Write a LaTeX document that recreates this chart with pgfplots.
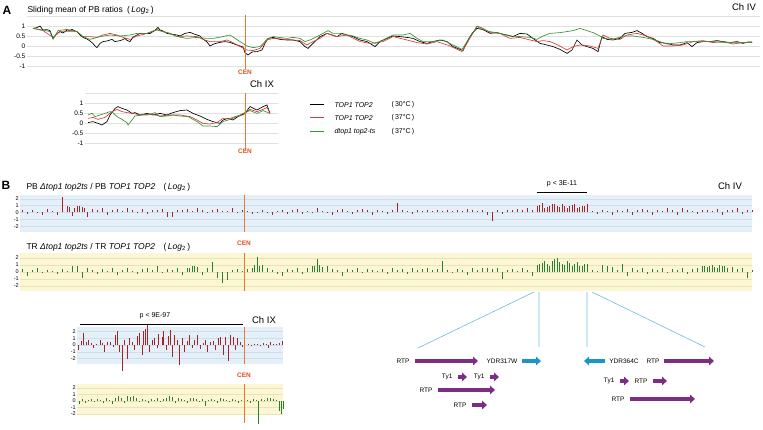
\documentclass[border=0pt]{standalone}
\usepackage{pgfplots}
\pgfplotsset{compat=1.18}
\usepackage{fontspec}
\setmainfont{Liberation Sans}
\usetikzlibrary{arrows.meta}

\definecolor{cenorange}{RGB}{232,120,50}
\definecolor{centext}{RGB}{220,80,30}
\definecolor{lred}{RGB}{215,60,50}
\definecolor{lgreen}{RGB}{50,150,50}
\definecolor{barred}{RGB}{165,35,35}
\definecolor{bargreen}{RGB}{40,130,45}
\definecolor{bandblue}{RGB}{228,239,248}
\definecolor{gridblue}{RGB}{205,222,238}
\definecolor{bandyellow}{RGB}{251,246,212}
\definecolor{gridyellow}{RGB}{236,226,180}
\definecolor{gene}{RGB}{125,45,130}
\definecolor{ydr}{RGB}{25,150,200}
\definecolor{zoomline}{RGB}{110,185,220}

\pgfplotsset{
  lineaxis/.style={scale only axis, clip=false, anchor=south west,
    axis line style={draw=none}, tick style={draw=none}, xtick=\empty,
    ymin=-1, ymax=1.5, ytick={-1,-0.5,0,0.5,1,1.5},
    yticklabels={-1,-0.5,0,0.5,1,{}}, ymajorgrids,
    grid style={black!12, line width=0.7pt},
    yticklabel style={font=\fontsize{6.5}{7}\selectfont, inner sep=1.5pt}},
  bandaxis/.style={scale only axis, clip=false, anchor=south west,
    axis line style={draw=none}, tick style={draw=none}, xtick=\empty,
    ytick={-2,-1,0,1,2}, yticklabels={-2,-1,0,1,2}, ymajorgrids,
    yticklabel style={font=\fontsize{5.5}{6}\selectfont, inner sep=1pt}},
  blueband/.style={axis background/.style={fill=bandblue}, grid style={gridblue, line width=0.5pt}},
  yellowband/.style={axis background/.style={fill=bandyellow}, grid style={gridyellow, line width=0.5pt}},
}
\newcommand\cen[1]{\node[text=centext, font=\fontsize{6.5}{7}\selectfont\bfseries] at #1 {CEN};}

\begin{document}
\begin{tikzpicture}
\path[use as bounding box] (0pt,0pt) rectangle (763pt,-430pt);

% ---------- A: Ch IV sliding mean
\begin{axis}[lineaxis, at={(27pt,-66pt)}, width=733pt, height=50pt, xmin=27, xmax=760]
\addplot[black, line width=0.65pt] coordinates {
(33,0.88)(37,0.92)(40,1.0)(43,0.8)(47,0.82)(50,0.77)(53,0.38)(55,0.5)(57,0.63)(60,0.72)
(63,0.65)(67,0.8)(70,0.78)(72,0.83)(75,0.75)(77,0.72)(80,0.55)(83,0.43)(87,0.35)(90,0.25)
(93,0.13)(95,0.0)(97,-0.08)(100,0.13)(103,0.22)(107,0.25)(110,0.3)(112,0.33)(115,0.22)(118,0.25)
(120,0.27)(123,0.32)(125,0.38)(127,0.28)(130,0.22)(133,0.45)(137,0.55)(140,0.63)(143,0.6)(147,0.63)
(150,0.62)(153,0.72)(155,0.78)(158,0.93)(160,0.8)(163,0.75)(167,0.63)(170,0.6)(173,0.58)(177,0.55)
(180,0.5)(185,0.63)(190,0.68)(193,0.62)(197,0.55)(200,0.5)(203,0.35)(207,0.2)(210,0.0)(213,0.08)
(215,0.12)(220,0.18)(225,0.22)(230,0.18)(233,0.12)(240,0.0)(243,-0.05)(245,-0.33)(248,-0.45)(252,-0.3)
(257,-0.28)(262,-0.2)(265,0.13)(268,0.38)(273,0.43)(280,0.33)(287,0.3)(293,0.3)(300,0.22)(305,-0.03)
(308,-0.12)(313,0.13)(320,0.47)(327,0.63)(332,0.55)(337,0.47)(342,0.63)(347,0.55)(353,0.47)(360,0.3)
(367,0.22)(375,-0.03)(380,0.22)(387,0.38)(393,0.5)(400,0.47)(407,0.43)(413,0.38)(420,0.22)(427,0.13)
(433,0.22)(440,0.3)(447,0.22)(453,-0.03)(460,-0.17)(463,-0.23)(468,0.3)(472,0.63)(477,0.88)(482,0.83)
(485,0.77)(490,0.63)(497,0.67)(502,0.6)(507,0.55)(513,0.47)(520,0.63)(527,0.6)(533,0.38)(540,0.13)
(547,0.05)(553,-0.03)(560,-0.17)(567,-0.37)(572,-0.2)(577,0.3)(582,0.05)(587,-0.03)(593,-0.12)(598,-0.28)
(602,0.47)(607,0.33)(613,0.3)(620,0.38)(625,0.63)(632,0.68)(637,0.77)(642,0.63)(647,0.47)(653,0.38)
(660,0.17)(667,0.13)(673,0.05)(680,0.05)(687,0.17)(692,-0.03)(697,0.17)(703,0.22)(710,0.22)(717,0.27)
(723,0.22)(730,0.17)(737,0.22)(743,0.13)(748,0.2)(752,0.2)};
\addplot[lred, line width=0.65pt] coordinates {
(33,0.88)(43,0.77)(53,0.43)(60,0.72)(70,0.72)(77,0.72)(83,0.47)(90,0.47)(97,0.43)(103,0.55)
(110,0.63)(117,0.55)(123,0.43)(130,0.33)(137,0.5)(147,0.63)(157,0.8)(163,0.72)(170,0.63)(177,0.47)
(187,0.5)(197,0.47)(203,0.33)(210,0.22)(220,0.22)(227,0.3)(233,0.17)(240,-0.03)(247,-0.2)(253,-0.23)
(260,-0.12)(267,0.3)(273,0.38)(287,0.33)(300,0.27)(307,0.05)(313,0.22)(320,0.38)(327,0.63)(337,0.47)
(347,0.55)(360,0.22)(370,0.13)(377,0.17)(383,0.22)(393,0.47)(407,0.3)(417,0.17)(427,0.1)(437,0.22)
(450,0.0)(462,-0.28)(468,0.22)(477,1.0)(483,0.88)(490,0.67)(500,0.63)(510,0.38)(520,0.43)(530,0.3)
(537,0.22)(543,0.27)(550,0.22)(558,0.05)(567,-0.2)(573,-0.03)(580,0.05)(590,0.0)(598,-0.12)(603,0.55)
(610,0.38)(620,0.33)(627,0.55)(637,0.63)(647,0.5)(657,0.22)(663,0.0)(673,0.0)(683,0.05)(693,0.22)
(703,0.27)(713,0.17)(723,0.22)(733,0.1)(743,0.17)(752,0.17)};
\addplot[lgreen, line width=0.65pt] coordinates {
(33,0.88)(43,0.8)(50,0.72)(53,0.33)(58,0.77)(67,0.83)(77,0.72)(83,0.47)(90,0.33)(100,0.47)
(110,0.55)(120,0.5)(130,0.55)(137,0.63)(147,0.63)(157,0.83)(163,0.72)(170,0.63)(177,0.47)(187,0.38)
(197,0.43)(207,0.38)(213,0.38)(223,0.47)(230,0.55)(240,0.22)(247,0.0)(253,-0.08)(260,-0.03)(267,0.33)
(273,0.47)(287,0.38)(293,0.43)(300,0.38)(305,0.22)(310,0.3)(317,0.47)(323,0.63)(328,0.77)(333,0.63)
(340,0.63)(347,0.55)(353,0.5)(360,0.38)(367,0.3)(375,0.13)(383,0.3)(393,0.55)(403,0.55)(410,0.63)
(417,0.38)(423,0.22)(433,0.22)(443,0.3)(453,0.05)(462,-0.17)(468,0.3)(477,0.97)(483,0.83)(490,0.72)
(500,0.63)(510,0.5)(520,0.47)(530,0.43)(537,0.33)(543,0.5)(550,0.63)(560,0.67)(567,0.72)(573,0.77)
(580,0.88)(587,0.77)(593,0.67)(600,0.5)(603,0.38)(613,0.33)(623,0.5)(633,0.5)(643,0.43)(653,0.33)
(660,0.22)(667,0.1)(680,0.17)(687,0.22)(693,0.22)(703,0.22)(713,0.22)(723,0.18)(733,0.17)(743,0.17)
(752,0.17)};
\draw[cenorange, line width=1pt] (axis cs:245,1.55) -- (axis cs:245,-1.15);
\end{axis}

% ---------- A: Ch IX sliding mean
\begin{axis}[lineaxis, at={(85pt,-143pt)}, width=193pt, height=50pt, xmin=85, xmax=278]
\addplot[black, line width=0.65pt] coordinates {
(88,0.02)(93,0.07)(98,-0.02)(102,-0.1)(107,0.07)(110,0.4)(115,0.73)(118,0.82)(122,0.73)(127,0.65)
(132,0.48)(135,0.52)(140,0.4)(147,0.48)(153,0.4)(160,0.48)(167,0.4)(173,0.52)(180,0.62)(187,0.65)
(193,0.48)(200,0.35)(207,0.18)(213,0.07)(220,-0.02)(223,0.15)(228,0.23)(233,0.15)(238,0.32)(245,0.48)
(250,0.82)(257,0.65)(263,0.82)(267,0.9)(270,0.48)};
\addplot[lred, line width=0.65pt] coordinates {
(88,0.23)(93,0.28)(98,0.18)(105,0.28)(112,0.57)(117,0.68)(122,0.57)(127,0.52)(133,0.48)(140,0.4)
(150,0.45)(160,0.35)(170,0.4)(180,0.4)(190,0.32)(197,0.15)(203,-0.02)(210,-0.05)(217,0.02)(223,0.23)
(230,0.23)(237,0.35)(243,0.4)(250,0.68)(257,0.57)(263,0.68)(267,0.78)(270,0.48)};
\addplot[lgreen, line width=0.65pt] coordinates {
(88,0.4)(92,0.48)(95,0.32)(100,0.4)(105,0.48)(110,0.57)(113,0.52)(117,0.32)(122,0.18)(127,0.02)
(128,-0.1)(132,0.15)(135,0.35)(142,0.4)(148,0.4)(155,0.52)(160,0.32)(167,0.35)(173,0.4)(180,0.35)
(188,0.32)(197,0.07)(203,-0.15)(210,-0.15)(217,-0.18)(223,0.07)(230,0.18)(237,0.32)(243,0.48)(250,0.62)
(257,0.48)(263,0.62)(270,0.48)};
\draw[cenorange, line width=1pt] (axis cs:245,1.5) -- (axis cs:245,-1.35);
\end{axis}

% ---------- B: PB Ch IV
\begin{axis}[bandaxis, blueband, at={(20pt,-232pt)}, width=732pt, height=37pt,
  xmin=20, xmax=752, ymin=-2.87, ymax=2.57]
\addplot[ycomb, barred, line width=0.5pt, no marks] table[row sep=\\] {
x y\\
22 0.3\\ 27 -0.2\\ 32 0.4\\ 37 0.1\\ 42 -0.3\\ 47 0.5\\ 52 0.2\\ 57 -0.4\\ 62 2.3\\ 67 0.9\\
72 -0.5\\ 77 1.0\\ 82 0.8\\ 87 -0.6\\ 92 0.5\\ 97 0.3\\ 102 0.6\\ 107 -0.3\\ 112 0.4\\ 117 0.5\\
122 0.2\\ 127 0.7\\ 132 0.3\\ 137 0.1\\ 142 0.5\\ 147 -0.2\\ 152 0.4\\ 157 0.3\\ 162 0.5\\ 167 -0.6\\
172 -0.7\\ 177 0.4\\ 182 0.3\\ 187 0.5\\ 192 0.2\\ 197 0.6\\ 202 0.3\\ 207 0.1\\ 212 0.4\\ 217 0.5\\
222 0.2\\ 227 0.2\\ 232 0.6\\ 237 0.1\\ 242 0.3\\ 247 0.2\\ 252 -0.2\\ 257 0.1\\ 262 0.3\\ 267 0.1\\
272 -0.3\\ 277 0.2\\ 282 0.4\\ 287 -0.2\\ 292 0.3\\ 297 0.5\\ 302 -0.2\\ 307 0.2\\ 312 0.1\\ 317 0.6\\
322 0.2\\ 327 0.1\\ 332 -0.3\\ 337 0.4\\ 342 0.5\\ 347 0.2\\ 352 -0.2\\ 357 0.3\\ 362 0.5\\ 367 0.3\\
372 -0.3\\ 377 0.4\\ 382 0.2\\ 387 -0.2\\ 392 0.3\\ 397 1.4\\ 402 0.4\\ 407 0.2\\ 412 -0.2\\ 417 0.3\\
422 0.2\\ 427 0.4\\ 432 0.2\\ 437 0.3\\ 442 0.2\\ 447 0.4\\ 452 0.2\\ 457 0.3\\ 462 0.2\\ 467 0.5\\
472 0.3\\ 477 0.2\\ 482 0.4\\ 487 -0.3\\ 492 -1.3\\ 497 0.3\\ 502 -0.2\\ 507 0.4\\ 512 0.3\\ 517 0.5\\
522 0.4\\ 527 0.6\\ 532 0.3\\ 537 0.9\\ 542 1.4\\ 547 0.8\\ 552 1.2\\ 557 0.9\\ 562 1.3\\ 567 0.7\\
572 1.1\\ 577 0.6\\ 582 0.9\\ 587 1.3\\ 592 0.2\\ 597 -0.2\\ 602 0.3\\ 607 0.2\\ 612 -0.3\\ 617 0.4\\
622 0.2\\ 627 0.5\\ 632 -0.3\\ 637 0.3\\ 642 0.5\\ 647 0.4\\ 652 -0.4\\ 657 0.3\\ 662 0.2\\ 667 0.6\\
672 0.4\\ 677 -0.3\\ 682 0.7\\ 687 0.3\\ 692 0.2\\ 697 -0.2\\ 702 0.4\\ 707 0.3\\ 712 0.2\\ 717 0.5\\
722 -0.3\\ 727 0.4\\ 732 0.3\\ 737 0.6\\ 742 -0.2\\ 747 0.4\\ 752 0.3\\
69.5 0.8\\ 74.5 0.7\\ 79.5 0.9\\ 84.5 0.6\\ 539.5 1.1\\ 544.5 0.7\\ 549.5 1.0\\ 554.5 1.3\\
559.5 0.8\\ 564.5 1.0\\ 569.5 0.9\\ 574.5 1.2\\ 579.5 0.8\\ 584.5 1.0\\
};
\end{axis}

% ---------- B: TR Ch IV
\begin{axis}[bandaxis, yellowband, at={(20pt,-291pt)}, width=732pt, height=38pt,
  xmin=20, xmax=752, ymin=-2.71, ymax=2.71]
\addplot[ycomb, bargreen, line width=0.5pt, no marks] table[row sep=\\] {
x y\\
22 0.4\\ 27 -0.5\\ 32 0.3\\ 37 0.5\\ 42 -0.2\\ 47 0.3\\ 52 0.2\\ 57 -0.3\\ 62 0.4\\ 67 0.2\\
72 0.8\\ 77 0.9\\ 82 -0.8\\ 87 0.6\\ 92 0.3\\ 97 -0.3\\ 102 0.4\\ 107 0.2\\ 112 0.5\\ 117 -0.4\\
122 0.3\\ 127 0.5\\ 132 0.2\\ 137 -0.3\\ 142 0.4\\ 147 0.5\\ 152 0.3\\ 157 0.9\\ 162 -0.2\\ 167 0.4\\
172 0.3\\ 177 0.5\\ 182 -0.4\\ 187 0.6\\ 192 0.8\\ 197 0.7\\ 202 -0.4\\ 207 0.5\\ 212 1.4\\ 217 -0.9\\
222 -1.6\\ 227 -1.2\\ 232 0.3\\ 237 0.4\\ 242 0.2\\ 247 0.4\\ 252 0.6\\ 257 2.1\\ 262 1.0\\ 267 0.5\\
272 0.3\\ 277 -0.3\\ 282 -0.6\\ 287 0.4\\ 292 0.3\\ 297 0.5\\ 302 -0.3\\ 307 0.6\\ 312 0.8\\ 317 1.9\\
322 0.7\\ 327 0.9\\ 332 0.4\\ 337 0.3\\ 342 -0.5\\ 347 0.4\\ 352 0.3\\ 357 0.5\\ 362 -0.2\\ 367 0.4\\
372 0.3\\ 377 0.2\\ 382 0.4\\ 387 -0.3\\ 392 0.5\\ 397 0.3\\ 402 0.4\\ 407 -0.3\\ 412 0.5\\ 417 0.3\\
422 0.4\\ 427 0.6\\ 432 0.3\\ 437 0.4\\ 442 1.5\\ 447 0.3\\ 452 -0.2\\ 457 0.4\\ 462 0.3\\ 467 -0.4\\
472 0.5\\ 477 0.3\\ 482 0.6\\ 487 0.5\\ 492 0.4\\ 497 0.6\\ 502 -1.0\\ 507 0.3\\ 512 0.4\\ 517 0.2\\
522 0.5\\ 527 0.3\\ 532 -0.6\\ 537 1.0\\ 542 1.3\\ 547 1.1\\ 552 1.6\\ 557 2.0\\ 562 1.2\\ 567 1.5\\
572 0.9\\ 577 1.4\\ 582 0.8\\ 587 1.1\\ 592 0.3\\ 597 0.2\\ 602 1.0\\ 607 0.9\\ 612 0.7\\ 617 0.3\\
622 1.2\\ 627 -0.5\\ 632 0.6\\ 637 0.3\\ 642 0.5\\ 647 -0.3\\ 652 0.4\\ 657 0.3\\ 662 0.5\\ 667 -0.2\\
672 0.4\\ 677 0.3\\ 682 0.5\\ 687 -0.3\\ 692 0.4\\ 697 0.6\\ 702 0.8\\ 707 0.7\\ 712 1.0\\ 717 0.6\\
722 0.9\\ 727 0.5\\ 732 0.7\\ 737 0.4\\ 742 0.5\\ 747 -0.8\\ 752 0.3\\
189.5 0.6\\ 194.5 0.9\\ 254.5 1.0\\ 259.5 0.9\\ 314.5 0.9\\ 319.5 1.0\\ 539.5 1.2\\ 544.5 1.5\\
549.5 0.9\\ 554.5 1.8\\ 559.5 1.4\\ 564.5 1.0\\ 569.5 1.3\\ 574.5 1.1\\ 579.5 0.9\\ 584.5 1.2\\
704.5 0.9\\ 709.5 0.8\\ 714.5 0.7\\ 719.5 1.0\\ 724.5 0.8\\
};
\end{axis}

% ---------- B: PB Ch IX
\begin{axis}[bandaxis, blueband, at={(77pt,-364pt)}, width=206pt, height=37pt,
  xmin=77, xmax=283, ymin=-2.8, ymax=2.65]
\addplot[ycomb, barred, line width=0.5pt, no marks] table[row sep=\\] {
x y\\
78 -0.8\\ 81 0.6\\ 83 1.7\\ 86 0.4\\ 88 0.8\\ 91 0.3\\ 93 -0.5\\ 96 0.2\\ 100 0.8\\ 102 0.3\\
104 -1.0\\ 107 0.5\\ 110 0.5\\ 113 -0.3\\ 115 1.5\\ 117 2.0\\ 119 -1.0\\ 122 -3.9\\ 124 0.8\\ 127 -2.0\\
129 1.0\\ 132 0.5\\ 134 -0.8\\ 137 1.3\\ 139 1.8\\ 142 -1.5\\ 143 2.0\\ 145 2.4\\ 147 2.9\\ 149 -1.0\\
152 0.8\\ 154 1.0\\ 157 -0.5\\ 158 1.6\\ 162 1.2\\ 163 2.0\\ 166 -0.8\\ 168 1.3\\ 170 2.2\\ 172 -1.8\\
174 1.5\\ 177 0.8\\ 179 -2.9\\ 182 1.0\\ 184 -1.0\\ 187 0.6\\ 189 1.4\\ 192 -0.5\\ 194 0.8\\ 197 1.5\\
200 -0.6\\ 203 0.3\\ 205 0.8\\ 207 -1.0\\ 210 0.5\\ 213 0.6\\ 215 -0.8\\ 218 1.0\\ 220 1.2\\ 223 -1.5\\
225 1.2\\ 228 -2.3\\ 230 1.5\\ 233 1.2\\ 235 -0.8\\ 237 1.0\\ 240 0.5\\ 242 -0.3\\ 248 0.2\\ 251 -0.1\\
254 0.1\\ 257 0.2\\ 260 -0.2\\ 263 0.3\\ 266 0.1\\ 268 -0.5\\ 270 0.5\\ 273 0.2\\ 276 0.1\\ 279 0.3\\
282 0.6\\
};
\end{axis}

% ---------- B: TR Ch IX
\begin{axis}[bandaxis, yellowband, at={(77pt,-414pt)}, width=206pt, height=30pt,
  xmin=77, xmax=283, ymin=-2, ymax=2.6]
\addplot[ycomb, bargreen, line width=0.5pt, no marks] table[row sep=\\] {
x y\\
79 -0.5\\ 82 0.3\\ 85 -0.3\\ 88 0.2\\ 91 0.3\\ 94 -0.2\\ 97 0.3\\ 100 0.2\\ 103 -0.3\\ 106 0.4\\
109 0.2\\ 112 -0.4\\ 115 0.5\\ 118 0.8\\ 121 0.4\\ 124 -0.3\\ 127 0.8\\ 130 0.6\\ 133 0.7\\ 136 0.5\\
139 -0.2\\ 142 0.3\\ 145 0.2\\ 148 -0.3\\ 151 0.3\\ 154 0.2\\ 157 0.4\\ 160 -0.2\\ 163 0.3\\ 166 0.5\\
169 0.7\\ 172 0.6\\ 175 -0.3\\ 178 0.4\\ 181 0.3\\ 184 0.2\\ 187 -0.3\\ 190 0.4\\ 193 0.5\\ 196 0.3\\
199 -0.2\\ 202 0.3\\ 205 -0.8\\ 208 0.2\\ 211 0.3\\ 214 0.2\\ 217 -0.3\\ 220 0.4\\ 223 0.3\\ 226 0.2\\
229 -0.2\\ 232 0.3\\ 235 0.2\\ 238 -0.3\\ 241 0.2\\ 247 0.2\\ 250 -0.3\\ 253 0.3\\ 256 0.2\\ 258 -3.6\\
261 0.3\\ 264 0.2\\ 267 0.5\\ 270 0.4\\ 273 0.3\\ 276 0.2\\ 279 -1.5\\ 281 -2.0\\ 283 -1.2\\
};
\end{axis}

% ---------- annotations
\begin{scope}[x=1pt, y=-1pt]
\node[font=\fontsize{12}{12}\selectfont\bfseries] at (7,10.5) {A};
\node[anchor=west, font=\fontsize{8.5}{10}\selectfont] at (24,10)
  {Sliding mean of PB ratios\enspace(\,\textit{Log}\textsubscript{2}\,)};
\node[font=\fontsize{9.5}{10}\selectfont] at (744,7) {Ch IV};
\cen{(245,72)}
\node[font=\fontsize{9.5}{10}\selectfont] at (262,84) {Ch IX};
\cen{(245,151)}
% legend
\draw[black, line width=1pt] (310,105) -- (324,105);
\draw[lred, line width=1pt] (310,118) -- (324,118);
\draw[lgreen, line width=1pt] (310,132) -- (324,132);
\begin{scope}[every node/.style={anchor=west, font=\fontsize{7}{8}\selectfont}]
\node at (331,105) {\textit{TOP1 TOP2}};
\node at (331,118) {\textit{TOP1 TOP2}};
\node at (331,132) {\textit{dtop1 top2-ts}};
\node at (388,105) {(\,30°C\,)};
\node at (388,118) {(\,37°C\,)};
\node at (388,132) {(\,37°C\,)};
\end{scope}

\node[font=\fontsize{12}{12}\selectfont\bfseries] at (6,185) {B};
\node[anchor=west, font=\fontsize{8.5}{10}\selectfont] at (23,187)
  {PB \textit{Δtop1 top2ts} / PB \textit{TOP1 TOP2}\quad(\,\textit{Log}\textsubscript{2}\,)};
\node[anchor=west, font=\fontsize{8.5}{10}\selectfont] at (23,247)
  {TR \textit{Δtop1 top2ts} / TR \textit{TOP1 TOP2}\quad(\,\textit{Log}\textsubscript{2}\,)};
\draw[cenorange, line width=1pt] (244,195) -- (244,232) (244,253) -- (244,291);
\cen{(244,243)}
\node[font=\fontsize{7}{8}\selectfont] at (562,184) {p < 3E-11};
\draw[black, line width=0.9pt] (537,192) -- (587,192);
\node[font=\fontsize{9.5}{10}\selectfont] at (730,186) {Ch IV};

\node[font=\fontsize{7}{8}\selectfont] at (155,316) {p < 9E-97};
\draw[black, line width=0.9pt] (80,324) -- (243,324);
\node[font=\fontsize{9.5}{10}\selectfont] at (264,320) {Ch IX};
\draw[cenorange, line width=1pt] (244,327) -- (244,364) (244,384) -- (244,423);
\cen{(244,375)}

% zoom lines
\draw[zoomline, line width=0.6pt] (534,292) -- (418,348) (539,292) -- (539,347)
  (587,292) -- (587,347) (592,292) -- (705,347);

% genes
\begin{scope}[every node/.style={font=\fontsize{6.5}{7}\selectfont}]
\tikzset{garrow/.style={line width=4pt, -{Triangle[length=5pt,width=8.5pt]}}}
\draw[gene, garrow] (415,361) -- (478,361); \node[anchor=east] at (413,361) {RTP};
\draw[ydr, garrow] (522,361) -- (541,361); \node at (502,361) {YDR317W};
\draw[gene, garrow] (458,377) -- (467,377); \node[anchor=east] at (456,377) {Ty1};
\draw[gene, garrow] (490,377) -- (499,377); \node[anchor=east] at (488,377) {Ty1};
\draw[gene, garrow] (438,390) -- (495,390); \node[anchor=east] at (436,390) {RTP};
\draw[gene, garrow] (472,405) -- (487,405); \node[anchor=east] at (470,405) {RTP};
\draw[ydr, garrow] (605,361) -- (584,361); \node at (624,361) {YDR364C};
\draw[gene, garrow] (664,361) -- (714,361); \node[anchor=east] at (663,361) {RTP};
\draw[gene, garrow] (620,381) -- (629,381); \node[anchor=east] at (618,381) {Ty1};
\draw[gene, garrow] (653,381) -- (667,381); \node[anchor=east] at (651,381) {RTP};
\draw[gene, garrow] (630,399) -- (695,399); \node[anchor=east] at (628,399) {RTP};
\end{scope}
\end{scope}
\end{tikzpicture}
\end{document}
